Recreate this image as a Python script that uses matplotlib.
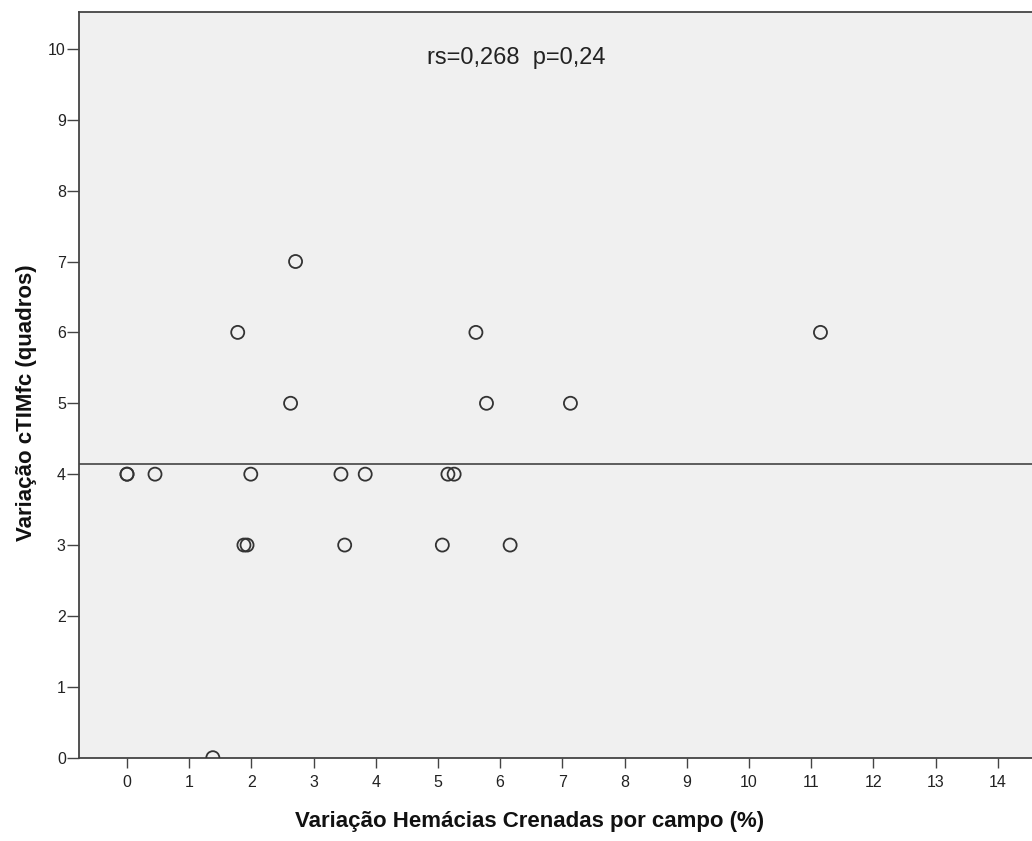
import matplotlib
matplotlib.use("Agg")
import matplotlib.pyplot as plt
import numpy as np

# Data
x_crenadas = [0.0, 0.0, 0.45, 1.99, 3.44, 3.83, 5.16, 5.26,
              1.88, 1.93, 3.50, 5.07, 6.16,
              2.63, 5.78, 7.13,
              1.78, 5.61, 11.15,
              2.71,
              1.38]
y_ctimfc = [4, 4, 4, 4, 4, 4, 4, 4,
            3, 3, 3, 3, 3,
            5, 5, 5,
            6, 6, 6,
            7,
            0]
x_ticks = list(range(0, 15))
y_ticks = list(range(0, 11))
annotation = "rs=0,268  p=0,24"
xlabel = "Variação Hemácias Crenadas por campo (%)"
ylabel = "Variação cTIMfc (quadros)"

plt.rcParams['font.family'] = ['Liberation Sans', 'DejaVu Sans']

W, H = 1032, 841
fig = plt.figure(figsize=(W / 100, H / 100), dpi=100)
fig.patch.set_facecolor('white')

left_px, right_px, top_px, bottom_px = 79, 1040, 12, 757.7
ax = fig.add_axes([left_px / W, (H - bottom_px) / H,
                   (right_px - left_px) / W, (bottom_px - top_px) / H])
ax.set_facecolor('#f0f0f0')

ax.set_xlim(-0.772, 14.68)
ax.set_ylim(0, 10.52)

ax.scatter(x_crenadas, y_ctimfc, s=88, facecolors='none',
           edgecolors='#333333', linewidths=1.3, zorder=3)

ax.axhline(np.mean(y_ctimfc), color='#444444', linewidth=1.2, zorder=2)

ax.set_xticks(x_ticks)
ax.set_yticks(y_ticks)
ax.tick_params(axis='x', direction='out', length=7.5, width=1.0,
               color='#444444', labelsize=11.5, labelcolor='#222222', pad=5)
ax.tick_params(axis='y', direction='out', length=8.5, width=1.0,
               color='#444444', labelsize=11.5, labelcolor='#222222', pad=1)

for side in ['left', 'top', 'bottom']:
    ax.spines[side].set_color('#444444')
    ax.spines[side].set_linewidth(1.3)
ax.spines['right'].set_visible(False)

fig.text(530 / W, 1 - 822 / H, xlabel, fontsize=16, fontweight='bold',
         color='#111111', ha='center', va='center')
fig.text(27 / W, 1 - 403 / H, ylabel, fontsize=16, fontweight='bold',
         color='#111111', ha='center', va='center', rotation=90)

ax.text(0.4547, 0.938, annotation, transform=ax.transAxes,
        ha='center', va='center', fontsize=17, color='#222222')

fig.savefig('out.png', dpi=100, facecolor='white')
